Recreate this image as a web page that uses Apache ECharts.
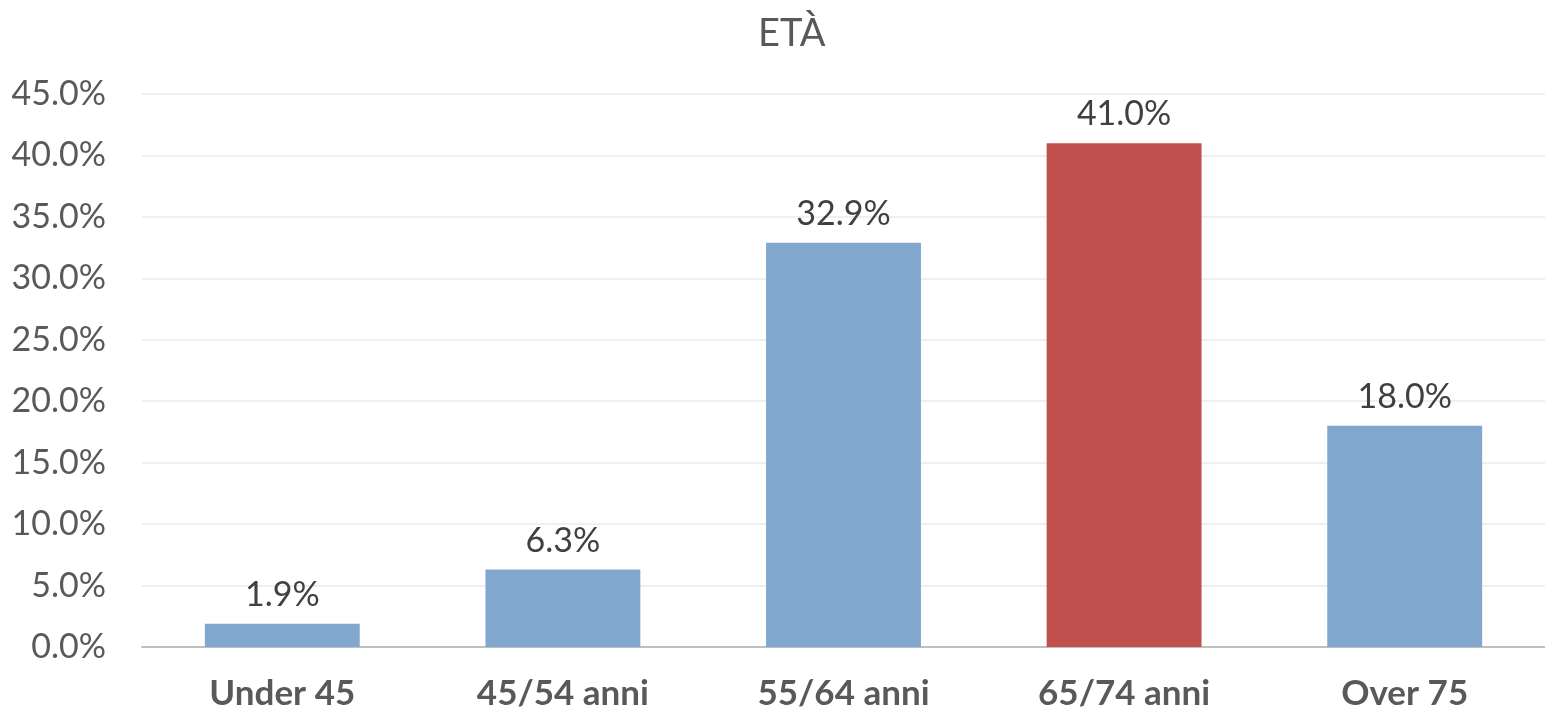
<!DOCTYPE html>
<html>
<head>
<meta charset="utf-8">
<script src="https://cdn.jsdelivr.net/npm/echarts@6/dist/echarts.min.js"></script>
<style>
  html, body { margin: 0; padding: 0; background: #ffffff; overflow: hidden; }
  #chart { width: 1545px; height: 718px; }
</style>
</head>
<body>
<div id="chart"></div>
<script>
// Age groups and their share of respondents (percent)
const categories = ['Under 45', '45/54 anni', '55/64 anni', '65/74 anni', 'Over 75'];
const shares = [1.9, 6.3, 32.9, 41.0, 18.0];
const highlightIndex = 3;

const FONT = 'Lato, "Open Sans", sans-serif';
const BLUE = '#82a7cf';
const RED = '#c0504d';

const chart = echarts.init(document.getElementById('chart'));
chart.setOption({
  animation: false,
  title: {
    text: 'ETÀ',
    left: 753,
    top: 10,
    textStyle: { fontFamily: FONT, fontSize: 38, fontWeight: 'normal', color: '#595959' }
  },
  grid: { left: 142, right: -6, top: 94, bottom: 71 },
  xAxis: {
    type: 'category',
    data: categories,
    axisLine: { lineStyle: { color: '#bfbfbf', width: 2 } },
    axisTick: { show: false },
    axisLabel: {
      fontFamily: FONT, fontSize: 35, fontWeight: 'bold', color: '#595959', margin: 29
    }
  },
  yAxis: {
    type: 'value',
    min: 0,
    max: 45,
    interval: 5,
    axisLine: { show: false },
    axisTick: { show: false },
    splitLine: { lineStyle: { color: '#efefef', width: 2 } },
    axisLabel: {
      fontFamily: FONT, fontSize: 34, color: '#595959', margin: 36,
      formatter: v => v.toFixed(1) + '%'
    }
  },
  series: [{
    type: 'bar',
    barWidth: '55.2%',
    data: shares.map((v, i) => ({
      value: v,
      itemStyle: { color: i === highlightIndex ? RED : BLUE }
    })),
    label: {
      show: true,
      position: 'top',
      distance: 12,
      fontFamily: FONT, fontSize: 34, color: '#404040',
      formatter: p => p.value.toFixed(1) + '%'
    }
  }]
});
</script>
</body>
</html>
